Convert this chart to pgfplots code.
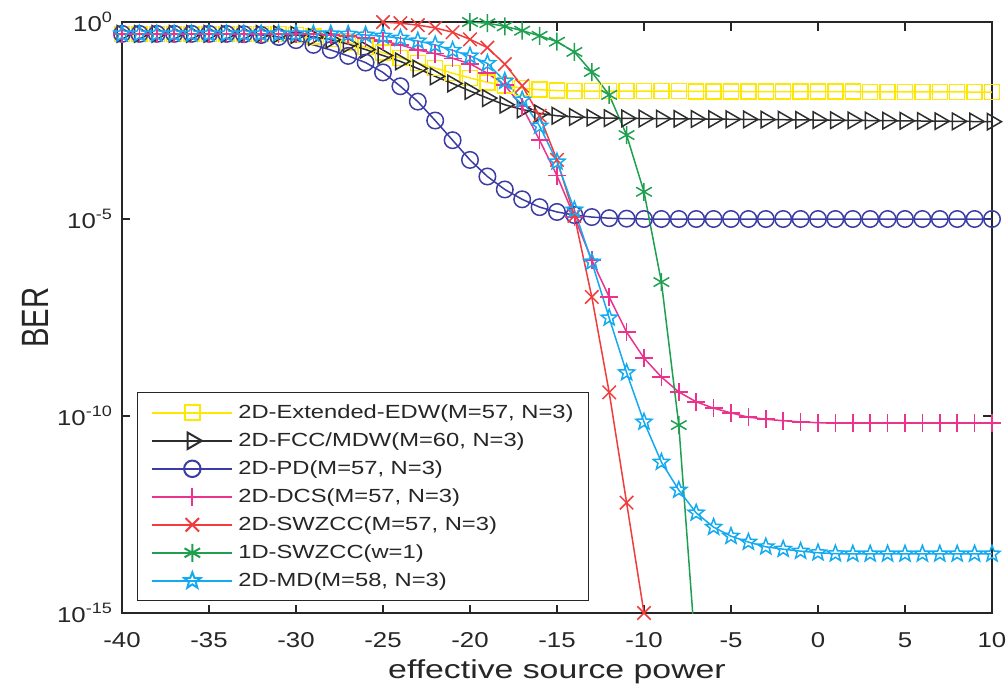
\documentclass[border=0pt]{standalone}
\usepackage{fontspec}
\setmainfont{Liberation Sans}
\newfontfamily\tickfont{Liberation Sans}[FakeStretch=1.2]
\newfontfamily\labfont{Liberation Sans}[FakeStretch=1.3]
\newfontfamily\legfont{Liberation Sans}[FakeStretch=1.25]
\usepackage{graphicx}
\usepackage{pgfplots}
\pgfplotsset{compat=1.18}
\usetikzlibrary{plotmarks}
\definecolor{axgray}{RGB}{38,38,38}
\definecolor{cyel}{RGB}{255,232,0}
\definecolor{cblk}{RGB}{45,45,45}
\definecolor{cblu}{RGB}{60,60,165}
\definecolor{cpnk}{RGB}{235,50,140}
\definecolor{cred}{RGB}{240,60,60}
\definecolor{cgrn}{RGB}{30,160,80}
\definecolor{ccyn}{RGB}{20,170,240}
\pgfdeclareplotmark{pentagram}{%
  \pgfpathmoveto{\pgfpointpolar{90}{\pgfplotmarksize}}%
  \pgfpathlineto{\pgfpointpolar{126}{0.42\pgfplotmarksize}}%
  \pgfpathlineto{\pgfpointpolar{162}{\pgfplotmarksize}}%
  \pgfpathlineto{\pgfpointpolar{198}{0.42\pgfplotmarksize}}%
  \pgfpathlineto{\pgfpointpolar{234}{\pgfplotmarksize}}%
  \pgfpathlineto{\pgfpointpolar{270}{0.42\pgfplotmarksize}}%
  \pgfpathlineto{\pgfpointpolar{306}{\pgfplotmarksize}}%
  \pgfpathlineto{\pgfpointpolar{342}{0.42\pgfplotmarksize}}%
  \pgfpathlineto{\pgfpointpolar{18}{\pgfplotmarksize}}%
  \pgfpathlineto{\pgfpointpolar{54}{0.42\pgfplotmarksize}}%
  \pgfpathclose\pgfusepathqstroke}
\begin{document}
\begin{tikzpicture}
\path[use as bounding box] (-48.8pt,-31.2pt) rectangle (353.6pt,245.2pt);
\begin{axis}[
  at={(0pt,0pt)}, anchor=south west,
  width=348pt, height=236.4pt, scale only axis,
  xmin=-40, xmax=10, ymin=1e-15, ymax=1, ymode=log,
  xtick={-40,-35,-30,-25,-20,-15,-10,-5,0,5,10},
  xticklabels={-40,-35,-30,-25,-20,-15,-10,-5,0,5,10},
  ytick={1e-15,1e-10,1e-5,1},
  yticklabels={10\textsuperscript{-15},10\textsuperscript{-10},10\textsuperscript{-5},10\textsuperscript{0}},
  yminorticks=false, xminorticks=false,
  tick align=inside, major tick length=3.4pt,
  axis line style={axgray, line width=0.5pt},
  every tick/.style={axgray, line width=0.5pt},
  tick label style={font=\tickfont\fontsize{8.6}{10}\selectfont, text=axgray},
  xticklabel style={anchor=center, yshift=-11pt},
  label style={text=axgray},
  xlabel={effective source power},
  ylabel={\scalebox{1}[1.3]{BER}},
  xlabel style={font=\labfont\fontsize{10.4}{12}\selectfont, at={(axis description cs:0.5,-0.099)}, anchor=center},
  ylabel style={font=\fontsize{11.7}{14}\selectfont, at={(axis description cs:-0.1,0.5)}, anchor=center},
  legend style={at={(0.0172,0.0196)}, anchor=south west, draw=axgray, line width=0.5pt, fill=white,
    font=\legfont\fontsize{7.6}{9}\selectfont, text=axgray, inner xsep=4pt, inner ysep=2.4pt, row sep=0pt,
    nodes={inner ysep=0.8pt, text height=7.2pt, text depth=2.4pt}},
  legend cell align=left,
  legend image code/.code={\path (-1.6pt,0pt); \draw[line width=0.8pt,mark repeat=2,mark phase=2,#1,line width=0.8pt] plot coordinates {(0pt,0pt) (16pt,0pt) (32pt,0pt)};},
  every axis plot/.append style={line width=0.6pt, mark options={solid}},
]
% 2D-Extended-EDW
\addplot[color=cyel, mark=square, mark size=3pt] coordinates {
(-40,0.5)(-39,0.5)(-38,0.5)(-37,0.5)(-36,0.5)(-35,0.5)(-34,0.5)(-33,0.5)(-32,0.5)(-31,0.49)
(-30,0.468)(-29,0.427)(-28,0.372)(-27,0.302)(-26,0.229)(-25,0.166)(-24,0.123)(-23,0.0912)(-22,0.0676)(-21,0.0501)
(-20,0.038)(-19,0.0295)(-18,0.0245)(-17,0.0209)(-16,0.0191)(-15,0.0182)(-14,0.0178)(-13,0.0176)(-12,0.0175)(-11,0.0175)
(-10,0.0175)(-9,0.0175)(-8,0.0175)(-7,0.0174)(-6,0.0174)(-5,0.0173)(-4,0.0172)(-3,0.0172)(-2,0.0171)(-1,0.0171)
(0,0.017)(1,0.017)(2,0.017)(3,0.0169)(4,0.0169)(5,0.0169)(6,0.0168)(7,0.0168)(8,0.0168)(9,0.0167)(10,0.0167)};
\addlegendentry{2D-Extended-EDW(M=57, N=3)}
% 2D-FCC/MDW
\addplot[color=cblk, mark=triangle, mark size=3.8pt, mark options={rotate=-90}] coordinates {
(-40,0.5)(-39,0.5)(-38,0.5)(-37,0.5)(-36,0.5)(-35,0.5)(-34,0.5)(-33,0.5)(-32,0.5)(-31,0.49)
(-30,0.468)(-29,0.417)(-28,0.355)(-27,0.275)(-26,0.2)(-25,0.141)(-24,0.1)(-23,0.0661)(-22,0.0417)(-21,0.0275)
(-20,0.0178)(-19,0.0117)(-18,0.00794)(-17,0.00603)(-16,0.00479)(-15,0.00417)(-14,0.00389)(-13,0.00372)(-12,0.00363)(-11,0.00358)
(-10,0.00355)(-9,0.00352)(-8,0.00349)(-7,0.00346)(-6,0.00343)(-5,0.0034)(-4,0.00337)(-3,0.00334)(-2,0.00331)(-1,0.00328)
(0,0.00325)(1,0.00322)(2,0.00319)(3,0.00316)(4,0.00313)(5,0.0031)(6,0.00307)(7,0.00304)(8,0.00301)(9,0.00298)(10,0.00295)};
\addlegendentry{2D-FCC/MDW(M=60, N=3)}
% 2D-PD
\addplot[color=cblu, mark=o, mark size=3.3pt] coordinates {
(-40,0.5)(-39,0.5)(-38,0.5)(-37,0.5)(-36,0.5)(-35,0.5)(-34,0.5)(-33,0.49)(-32,0.468)(-31,0.417)
(-30,0.347)(-29,0.263)(-28,0.195)(-27,0.138)(-26,0.0933)(-25,0.0525)(-24,0.0234)(-23,0.00955)(-22,0.00316)(-21,0.001)
(-20,3.16e-4)(-19,1.2e-4)(-18,5.62e-5)(-17,3.16e-5)(-16,2.0e-5)(-15,1.51e-5)(-14,1.26e-5)(-13,1.12e-5)(-12,1.05e-5)(-11,1.02e-5)
(-10,1.0e-5)(-9,1.0e-5)(-8,1.0e-5)(-7,1.0e-5)(-6,1.0e-5)(-5,1.0e-5)(-4,1.0e-5)(-3,1.0e-5)(-2,1.0e-5)(-1,1.0e-5)
(0,1.0e-5)(1,1.0e-5)(2,1.0e-5)(3,1.0e-5)(4,1.0e-5)(5,1.0e-5)(6,1.0e-5)(7,1.0e-5)(8,1.0e-5)(9,1.0e-5)(10,1.0e-5)};
\addlegendentry{2D-PD(M=57, N=3)}
% 2D-DCS
\addplot[color=cpnk, mark=+, mark size=3.6pt] coordinates {
(-40,0.5)(-39,0.5)(-38,0.5)(-37,0.5)(-36,0.5)(-35,0.5)(-34,0.5)(-33,0.5)(-32,0.5)(-31,0.5)
(-30,0.5)(-29,0.49)(-28,0.468)(-27,0.437)(-26,0.389)(-25,0.331)(-24,0.263)(-23,0.195)(-22,0.158)(-21,0.12)
(-20,0.0871)(-19,0.0501)(-18,0.0251)(-17,0.00708)(-16,0.001)(-15,1.26e-4)(-14,1.12e-5)(-13,9.12e-7)(-12,1.05e-7)(-11,1.35e-8)
(-10,2.95e-9)(-9,9.77e-10)(-8,4.07e-10)(-7,2.29e-10)(-6,1.58e-10)(-5,1.2e-10)(-4,9.33e-11)(-3,8.32e-11)(-2,7.59e-11)(-1,7.08e-11)
(0,6.76e-11)(1,6.61e-11)(2,6.61e-11)(3,6.61e-11)(4,6.61e-11)(5,6.61e-11)(6,6.61e-11)(7,6.61e-11)(8,6.61e-11)(9,6.61e-11)(10,6.61e-11)};
\addlegendentry{2D-DCS(M=57, N=3)}
% 2D-SWZCC
\addplot[color=cred, mark=x, mark size=3.8pt] coordinates {
(-25,1.0)(-24,0.933)(-23,0.832)(-22,0.708)(-21,0.55)(-20,0.363)(-19,0.224)(-18,0.0851)(-17,0.024)(-16,0.00417)
(-15,3.16e-4)(-14,1.2e-5)(-13,1.05e-7)(-12,3.98e-10)(-11,6.31e-13)(-10,1e-15)};
\addlegendentry{2D-SWZCC(M=57, N=3)}
% 1D-SWZCC
\addplot[color=cgrn, mark=asterisk, mark size=3.6pt] coordinates {
(-20,1.0)(-19,0.933)(-18,0.776)(-17,0.603)(-16,0.447)(-15,0.316)(-14,0.174)(-13,0.0537)(-12,0.0141)(-11,0.00135)
(-10,4.9e-5)(-9,2.51e-7)(-8,5.89e-11)(-7,6.31e-17)};
\addlegendentry{1D-SWZCC(w=1)}
% 2D-MD
\addplot[color=ccyn, mark=pentagram, mark size=3.4pt] coordinates {
(-40,0.5)(-39,0.5)(-38,0.5)(-37,0.5)(-36,0.5)(-35,0.5)(-34,0.5)(-33,0.5)(-32,0.5)(-31,0.5)
(-30,0.5)(-29,0.5)(-28,0.5)(-27,0.49)(-26,0.468)(-25,0.437)(-24,0.389)(-23,0.331)(-22,0.263)(-21,0.191)
(-20,0.138)(-19,0.0891)(-18,0.0316)(-17,0.0105)(-16,0.00229)(-15,2.82e-4)(-14,1.7e-5)(-13,8.13e-7)(-12,3.09e-8)(-11,1.26e-9)
(-10,7.08e-11)(-9,6.76e-12)(-8,1.32e-12)(-7,3.47e-13)(-6,1.51e-13)(-5,8.91e-14)(-4,6.31e-14)(-3,4.79e-14)(-2,4.17e-14)(-1,3.72e-14)
(0,3.39e-14)(1,3.2e-14)(2,3.16e-14)(3,3.16e-14)(4,3.16e-14)(5,3.16e-14)(6,3.16e-14)(7,3.16e-14)(8,3.16e-14)(9,3.16e-14)(10,3.16e-14)};
\addlegendentry{2D-MD(M=58, N=3)}
\end{axis}
\end{tikzpicture}
\end{document}
